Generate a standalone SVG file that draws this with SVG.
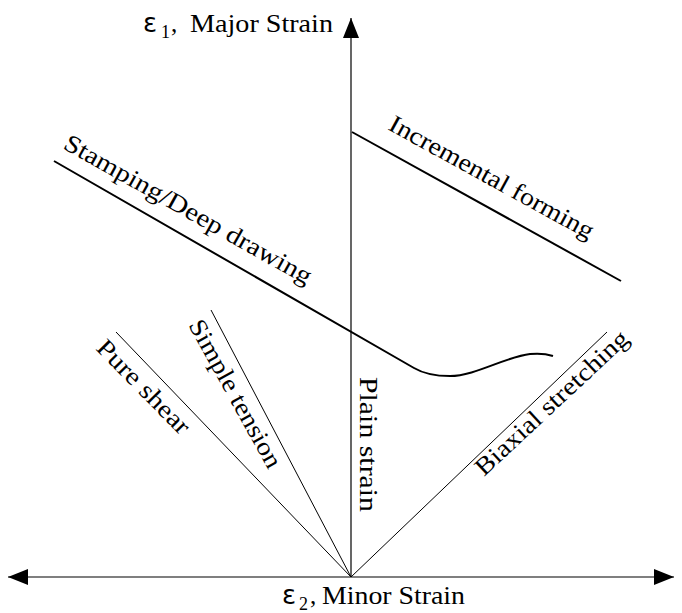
<svg xmlns="http://www.w3.org/2000/svg" width="682" height="613" viewBox="0 0 682 613">
<style>
text{fill:#000}
.lbl{font-size:25px}
.eps{font-size:26px}
.sub{font-size:18px}
.thin{stroke:#000;stroke-width:1;fill:none}
.axis{stroke:#000;stroke-width:1.2;fill:none}
.thick{stroke:#000;stroke-width:2;fill:none}
</style>
<defs>
<marker id="ah" viewBox="0 0 20 16" refX="20" refY="8" markerWidth="20" markerHeight="16" markerUnits="userSpaceOnUse" orient="auto-start-reverse">
<path d="M0,0 L20,8 L0,16 Z" fill="#000"/>
</marker>
</defs>
<g id="connectors">
<line class="axis" x1="351" y1="577" x2="351" y2="18" marker-end="url(#ah)"/>
<line class="axis" x1="8" y1="577" x2="674" y2="577" marker-start="url(#ah)" marker-end="url(#ah)"/>
<line class="thin" x1="351" y1="577" x2="116" y2="332"/>
<line class="thin" x1="351" y1="577" x2="211" y2="310"/>
<line class="thin" x1="351" y1="577" x2="607" y2="332"/>
<path class="thick" d="M54,161 L414,368 C424,374 436,376 450,376 C475,376 505,357 530,354 C540,353 547,354 553,356"/>
<line class="thick" x1="352" y1="132" x2="621" y2="281"/>
</g>
<g id="y-label" font-family="Liberation Serif, Times New Roman, serif">
<text class="eps" font-family="DejaVu Sans, sans-serif" x="143" y="32">ε</text>
<text class="sub" x="161" y="38">1</text>
<text class="lbl" x="171" y="32">,</text>
<text class="lbl" x="190" y="32" textLength="143" lengthAdjust="spacingAndGlyphs">Major Strain</text>
</g>
<g id="x-label" font-family="Liberation Serif, Times New Roman, serif">
<text class="eps" font-family="DejaVu Sans, sans-serif" x="282" y="604">ε</text>
<text class="sub" x="299" y="610">2</text>
<text class="lbl" x="310" y="604">,</text>
<text class="lbl" x="322" y="604" textLength="143" lengthAdjust="spacingAndGlyphs">Minor Strain</text>
</g>
<g id="stamping" font-family="Liberation Serif, Times New Roman, serif">
<text class="lbl" transform="translate(62,148) rotate(29.3)" textLength="280" lengthAdjust="spacingAndGlyphs">Stamping/Deep drawing</text>
</g>
<g id="incremental" font-family="Liberation Serif, Times New Roman, serif">
<text class="lbl" transform="translate(387,129) rotate(28.8)" textLength="230" lengthAdjust="spacingAndGlyphs">Incremental forming</text>
</g>
<g id="pure-shear" font-family="Liberation Serif, Times New Roman, serif">
<text class="lbl" transform="translate(95,349) rotate(45.5)" textLength="122" lengthAdjust="spacingAndGlyphs">Pure shear</text>
</g>
<g id="simple-tension" font-family="Liberation Serif, Times New Roman, serif">
<text class="lbl" transform="translate(188,325) rotate(61)" textLength="166" lengthAdjust="spacingAndGlyphs">Simple tension</text>
</g>
<g id="plain-strain" font-family="Liberation Serif, Times New Roman, serif">
<text class="lbl" transform="translate(360,377) rotate(90)" textLength="135" lengthAdjust="spacingAndGlyphs">Plain strain</text>
</g>
<g id="biaxial" font-family="Liberation Serif, Times New Roman, serif">
<text class="lbl" transform="translate(484,477) rotate(-43)" textLength="200" lengthAdjust="spacingAndGlyphs">Biaxial stretching</text>
</g>
</svg>
